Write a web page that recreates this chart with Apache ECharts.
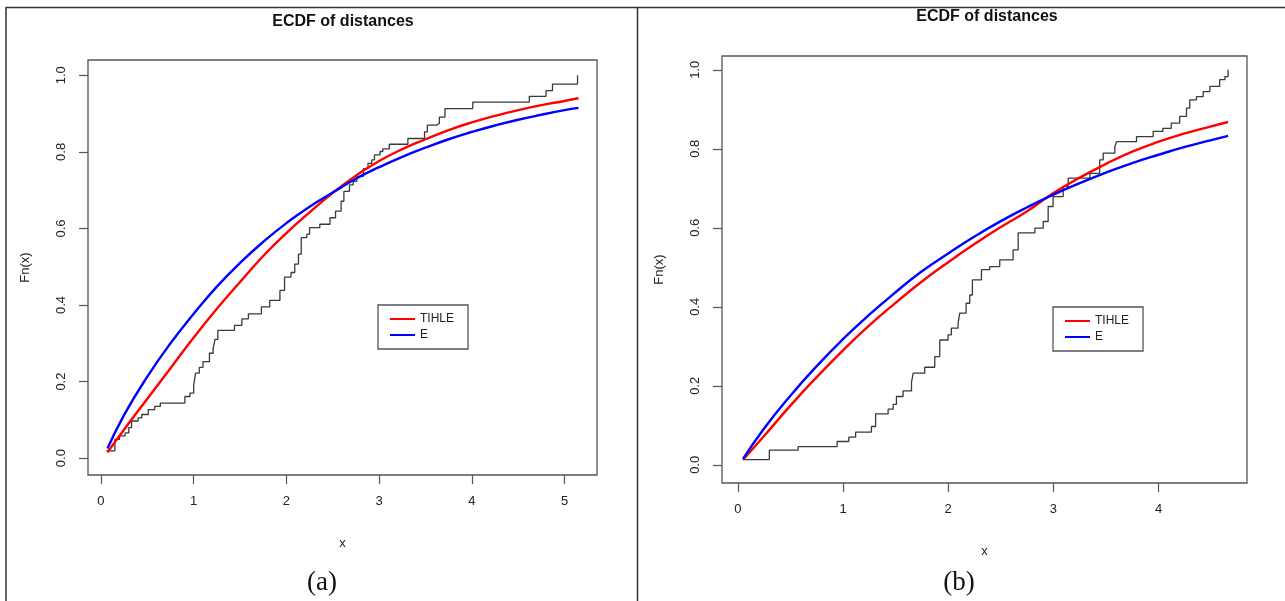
<!DOCTYPE html>
<html><head><meta charset="utf-8">
<script src="https://cdn.jsdelivr.net/npm/echarts@6/dist/echarts.min.js"></script>
<style>html,body{margin:0;padding:0;background:#fff}#c{width:1285px;height:601px}</style>
</head><body><div id="c"></div><script>
// ---- Panel (a) ----
const xTicksA = [0, 1, 2, 3, 4, 5];
const yTicks = [0, 0.2, 0.4, 0.6, 0.8, 1.0];
const ecdfA_x = [0.06,0.15,0.20,0.26,0.30,0.33,0.40,0.44,0.51,0.58,0.64,0.905,0.96,1.00,1.02,1.06,1.10,1.17,1.21,1.23,1.26,1.44,1.52,1.59,1.73,1.82,1.93,1.98,2.05,2.09,2.13,2.16,2.22,2.25,2.36,2.47,2.53,2.59,2.62,2.68,2.72,2.76,2.83,2.88,2.92,2.95,3.01,3.04,3.11,3.31,3.49,3.52,3.62,3.65,3.71,4.01,4.62,4.80,4.87,5.14];
const ecdfA_y = [0.019,0.049,0.058,0.066,0.080,0.097,0.105,0.114,0.127,0.135,0.144,0.161,0.170,0.190,0.222,0.237,0.252,0.274,0.287,0.310,0.334,0.347,0.364,0.377,0.395,0.412,0.438,0.473,0.485,0.507,0.533,0.576,0.585,0.602,0.611,0.628,0.645,0.671,0.697,0.714,0.723,0.736,0.756,0.770,0.779,0.792,0.801,0.808,0.820,0.835,0.852,0.870,0.874,0.891,0.913,0.930,0.945,0.960,0.977,1.000];
const curveA_x = [0.07,0.25,0.5,0.75,1.0,1.25,1.5,1.75,2.0,2.25,2.5,2.75,3.0,3.25,3.5,3.75,4.0,4.25,4.5,4.75,5.0,5.15];
const tihleA = [0.015,0.075,0.155,0.235,0.315,0.39,0.46,0.528,0.588,0.642,0.693,0.738,0.776,0.807,0.833,0.857,0.877,0.894,0.909,0.922,0.933,0.940];
const expA   = [0.025,0.113,0.213,0.30,0.377,0.448,0.51,0.565,0.614,0.657,0.694,0.73,0.76,0.787,0.811,0.833,0.852,0.869,0.884,0.897,0.909,0.915];

// ---- Panel (b) ----
const xTicksB = [0, 1, 2, 3, 4];
const ecdfB_x = [0.05,0.30,0.573,0.944,1.055,1.12,1.27,1.31,1.429,1.477,1.508,1.571,1.651,1.667,1.777,1.872,1.92,1.999,2.03,2.094,2.11,2.17,2.205,2.23,2.316,2.395,2.49,2.617,2.665,2.824,2.903,2.95,2.997,3.093,3.14,3.346,3.44,3.473,3.584,3.6,3.79,3.948,4.04,4.12,4.2,4.265,4.296,4.36,4.423,4.487,4.58,4.63,4.66];
const ecdfB_y = [0.013,0.037,0.046,0.059,0.070,0.083,0.097,0.129,0.141,0.153,0.173,0.187,0.209,0.232,0.247,0.274,0.316,0.329,0.346,0.359,0.384,0.409,0.430,0.468,0.494,0.502,0.519,0.544,0.587,0.599,0.616,0.654,0.679,0.705,0.726,0.738,0.772,0.789,0.806,0.818,0.831,0.844,0.852,0.865,0.882,0.903,0.924,0.932,0.945,0.958,0.975,0.983,1.000];
const curveB_x = [0.05,0.25,0.5,0.75,1.0,1.25,1.5,1.75,2.0,2.25,2.5,2.75,3.0,3.25,3.5,3.75,4.0,4.25,4.5,4.66];
const tihleB = [0.013,0.073,0.15,0.222,0.29,0.353,0.41,0.464,0.513,0.559,0.602,0.642,0.688,0.727,0.762,0.793,0.818,0.839,0.857,0.868];
const expB   = [0.015,0.092,0.175,0.25,0.318,0.38,0.437,0.49,0.535,0.578,0.617,0.652,0.684,0.713,0.74,0.764,0.785,0.805,0.822,0.833];

const FONT = 'Liberation Sans, Arial, sans-serif';
const pair = (xs, ys) => xs.map((x, i) => [x, ys[i]]);

function xAxis(gi, min, max, ticks, nameGap) {
  return {
    type: 'value', gridIndex: gi, min: min, max: max,
    name: 'x', nameLocation: 'middle', nameGap: nameGap,
    nameTextStyle: { fontFamily: FONT, fontSize: 13, color: '#222' },
    axisLine: { show: false, onZero: false }, splitLine: { show: false },
    axisTick: { show: true, length: 9, customValues: ticks, lineStyle: { color: '#555', width: 1.2 } },
    axisLabel: { customValues: ticks, margin: 20, fontFamily: FONT, fontSize: 13, color: '#222' }
  };
}
function yAxis(gi, min, max, nameGap) {
  return {
    type: 'value', gridIndex: gi, min: min, max: max,
    name: 'Fn(x)', nameLocation: 'middle', nameGap: nameGap,
    nameTextStyle: { fontFamily: FONT, fontSize: 13, color: '#222' },
    axisLine: { show: false, onZero: false }, splitLine: { show: false },
    axisTick: { show: true, length: 9, customValues: yTicks, lineStyle: { color: '#555', width: 1.2 } },
    axisLabel: { customValues: yTicks, rotate: 90, margin: 20, fontFamily: FONT, fontSize: 13, color: '#222',
      formatter: v => v.toFixed(1) }
  };
}
function legend(left, top) {
  return {
    data: ['TIHLE', 'E'], orient: 'vertical', left: left, top: top,
    borderColor: '#555', borderWidth: 1.3, borderRadius: 0,
    padding: [8, 14, 8, 12], itemGap: 4, itemWidth: 25, itemHeight: 2, icon: 'rect',
    textStyle: { fontFamily: FONT, fontSize: 12, color: '#222' }
  };
}
function stepSeries(gi, data) {
  return { name: 'ECDF', type: 'line', xAxisIndex: gi, yAxisIndex: gi, step: 'end', data: data,
    symbol: 'none', lineStyle: { color: '#3a3a3a', width: 1.3 }, itemStyle: { color: '#3a3a3a' }, z: 2 };
}
function curve(gi, name, color, data) {
  return { name: name, type: 'line', xAxisIndex: gi, yAxisIndex: gi, data: data, smooth: true,
    symbol: 'none', lineStyle: { color: color, width: 2.4 }, itemStyle: { color: color }, z: 3 };
}

const chart = echarts.init(document.getElementById('c'), null, { renderer: 'canvas' });
chart.setOption({
  animation: false,
  backgroundColor: '#fff',
  grid: [
    { left: 88, top: 60, width: 509, height: 415, show: true, borderColor: '#555', borderWidth: 1.3, backgroundColor: 'transparent' },
    { left: 722, top: 56, width: 525, height: 427, show: true, borderColor: '#555', borderWidth: 1.3, backgroundColor: 'transparent' }
  ],
  xAxis: [xAxis(0, -0.14, 5.35, xTicksA, 62), xAxis(1, -0.15, 4.84, xTicksB, 62)],
  yAxis: [yAxis(0, -0.044, 1.04, 56), yAxis(1, -0.046, 1.035, 56)],
  legend: [legend(378, 305), legend(1053, 307)],
  series: [
    stepSeries(0, pair(ecdfA_x, ecdfA_y)),
    curve(0, 'TIHLE', '#ff0000', pair(curveA_x, tihleA)),
    curve(0, 'E', '#0000ff', pair(curveA_x, expA)),
    stepSeries(1, pair(ecdfB_x, ecdfB_y)),
    curve(1, 'TIHLE', '#ff0000', pair(curveB_x, tihleB)),
    curve(1, 'E', '#0000ff', pair(curveB_x, expB))
  ],
  graphic: [
    { type: 'line', shape: { x1: 6, y1: 7.5, x2: 1285, y2: 7.5 }, style: { stroke: '#333', lineWidth: 1.5 } },
    { type: 'line', shape: { x1: 6, y1: 7, x2: 6, y2: 601 }, style: { stroke: '#333', lineWidth: 1.5 } },
    { type: 'line', shape: { x1: 637.5, y1: 7, x2: 637.5, y2: 601 }, style: { stroke: '#333', lineWidth: 1.5 } },
    { type: 'text', x: 343, y: 22, style: { text: 'ECDF of distances', font: 'bold 16px ' + FONT, fill: '#111', textAlign: 'center', textVerticalAlign: 'middle', verticalAlign: 'middle' } },
    { type: 'text', x: 987, y: 17, style: { text: 'ECDF of distances', font: 'bold 16px ' + FONT, fill: '#111', textAlign: 'center', textVerticalAlign: 'middle', verticalAlign: 'middle' } },
    { type: 'text', x: 322, y: 583, style: { text: '(a)', font: '27px Liberation Serif, Times New Roman, serif', fill: '#111', textAlign: 'center', textVerticalAlign: 'middle', verticalAlign: 'middle' } },
    { type: 'text', x: 959, y: 583, style: { text: '(b)', font: '27px Liberation Serif, Times New Roman, serif', fill: '#111', textAlign: 'center', textVerticalAlign: 'middle', verticalAlign: 'middle' } }
  ]
});
</script></body></html>
